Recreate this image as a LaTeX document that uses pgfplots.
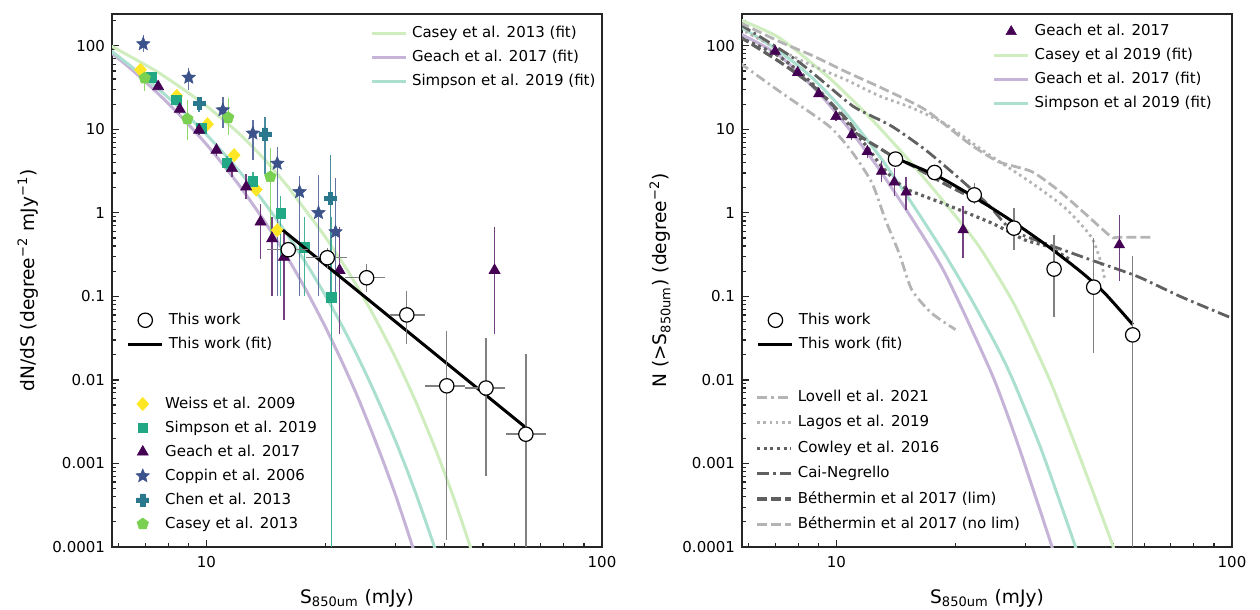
\documentclass[border=0pt]{standalone}
\usepackage{fontspec}
\setmainfont{DejaVu Sans}
\usepackage{pgfplots}
\pgfplotsset{compat=1.18}
\usetikzlibrary{plotmarks}

\definecolor{spine}{HTML}{262626}
\definecolor{cWeiss}{HTML}{FDE725}
\definecolor{cSimpson}{HTML}{22A884}
\definecolor{cGeach}{HTML}{440154}
\definecolor{cCoppin}{HTML}{3B528B}
\definecolor{cChen}{HTML}{2A788E}
\definecolor{cCasey}{HTML}{7AD151}
\definecolor{fitCasey}{HTML}{CFEDBE}
\definecolor{fitGeach}{HTML}{C5B4D8}
\definecolor{fitSimpson}{HTML}{ABE0D1}
\definecolor{errgray}{HTML}{808080}
\definecolor{ltgray}{HTML}{B4B4B4}
\definecolor{dkgray}{HTML}{606060}

\newcommand{\ticksz}{\fontsize{7.5}{9}\selectfont}
\newcommand{\labsz}{\fontsize{9.3}{11}\selectfont}

% filled marks that pgf does not have
\pgfdeclareplotmark{fstar}{%
  \pgfpathmoveto{\pgfpointpolar{90}{\pgfplotmarksize}}%
  \pgfpathlineto{\pgfpointpolar{126}{0.45\pgfplotmarksize}}%
  \pgfpathlineto{\pgfpointpolar{162}{\pgfplotmarksize}}%
  \pgfpathlineto{\pgfpointpolar{198}{0.45\pgfplotmarksize}}%
  \pgfpathlineto{\pgfpointpolar{234}{\pgfplotmarksize}}%
  \pgfpathlineto{\pgfpointpolar{270}{0.45\pgfplotmarksize}}%
  \pgfpathlineto{\pgfpointpolar{306}{\pgfplotmarksize}}%
  \pgfpathlineto{\pgfpointpolar{342}{0.45\pgfplotmarksize}}%
  \pgfpathlineto{\pgfpointpolar{18}{\pgfplotmarksize}}%
  \pgfpathlineto{\pgfpointpolar{54}{0.45\pgfplotmarksize}}%
  \pgfpathclose\pgfusepathqfillstroke}
\pgfdeclareplotmark{fdiamond}{%
  \pgfpathmoveto{\pgfqpoint{0pt}{\pgfplotmarksize}}%
  \pgfpathlineto{\pgfqpoint{.9\pgfplotmarksize}{0pt}}%
  \pgfpathlineto{\pgfqpoint{0pt}{-\pgfplotmarksize}}%
  \pgfpathlineto{\pgfqpoint{-.9\pgfplotmarksize}{0pt}}%
  \pgfpathclose\pgfusepathqfillstroke}
\pgfdeclareplotmark{fplus}{%
  \pgfpathmoveto{\pgfqpoint{-.35\pgfplotmarksize}{-\pgfplotmarksize}}%
  \pgfpathlineto{\pgfqpoint{.35\pgfplotmarksize}{-\pgfplotmarksize}}%
  \pgfpathlineto{\pgfqpoint{.35\pgfplotmarksize}{-.35\pgfplotmarksize}}%
  \pgfpathlineto{\pgfqpoint{\pgfplotmarksize}{-.35\pgfplotmarksize}}%
  \pgfpathlineto{\pgfqpoint{\pgfplotmarksize}{.35\pgfplotmarksize}}%
  \pgfpathlineto{\pgfqpoint{.35\pgfplotmarksize}{.35\pgfplotmarksize}}%
  \pgfpathlineto{\pgfqpoint{.35\pgfplotmarksize}{\pgfplotmarksize}}%
  \pgfpathlineto{\pgfqpoint{-.35\pgfplotmarksize}{\pgfplotmarksize}}%
  \pgfpathlineto{\pgfqpoint{-.35\pgfplotmarksize}{.35\pgfplotmarksize}}%
  \pgfpathlineto{\pgfqpoint{-\pgfplotmarksize}{.35\pgfplotmarksize}}%
  \pgfpathlineto{\pgfqpoint{-\pgfplotmarksize}{-.35\pgfplotmarksize}}%
  \pgfpathlineto{\pgfqpoint{-.35\pgfplotmarksize}{-.35\pgfplotmarksize}}%
  \pgfpathclose\pgfusepathqfillstroke}

% shared by all six overlaid axes
\pgfplotsset{
  every axis/.append style={
    scale only axis, width=245pt, height=266.5pt,
    xmode=log, ymode=log, xmin=5.77, xmax=100, ymin=1e-4, ymax=240,
    xtick={10,100}, xticklabels={10,100},
    ytick={0.0001,0.001,0.01,0.1,1,10,100},
    yticklabels={0.0001,0.001,0.01,0.1,1,10,100},
    minor xtick={6,7,8,9,20,30,40,50,60,70,80,90},
    minor ytick={2e-4,3e-4,4e-4,5e-4,6e-4,7e-4,8e-4,9e-4,
      2e-3,3e-3,4e-3,5e-3,6e-3,7e-3,8e-3,9e-3,
      0.02,0.03,0.04,0.05,0.06,0.07,0.08,0.09,
      0.2,0.3,0.4,0.5,0.6,0.7,0.8,0.9,
      2,3,4,5,6,7,8,9,20,30,40,50,60,70,80,90,200},
    tick pos=left, tick align=inside,
    major tick length=3.5pt, minor tick length=2pt,
    axis line style={line width=0.75pt, spine},
    tick label style={font=\ticksz},
    xticklabel style={yshift=-1pt},
    xlabel style={at={(axis description cs:0.5,-0.0957)}, anchor=center, font=\labsz},
    ylabel style={at={(axis description cs:-0.1714,0.5)}, anchor=center, font=\labsz},
    legend cell align=left,
    legend style={draw=none, fill=none, inner sep=0pt, outer sep=0pt, font=\ticksz,
      row sep=3.2pt, column sep=2pt,
      nodes={inner sep=0.5pt, text height=6pt, text depth=1.8pt}},
  },
  every tick/.append style={line width=0.6pt, spine},
  lnleg/.style={legend image code/.code={\draw[##1] (0pt,0pt) -- (17pt,0pt);}},
  mkleg/.style={legend image code/.code={\path (0pt,0pt) (17pt,0pt);
      \draw[##1,only marks] plot coordinates {(8.5pt,0pt)};}},
  fitln/.style={no markers, line width=1.5pt, smooth, tension=0.4, lnleg},
  mdlln/.style={no markers, line width=1.4pt, line cap=butt, smooth, tension=0.4, lnleg},
  ptsmk/.style={only marks, mkleg},
  ebar/.style={/pgfplots/error bars/y dir=both, /pgfplots/error bars/y explicit,
    /pgfplots/error bars/error mark=none,
    /pgfplots/error bars/error bar style={line width=0.7pt,#1}},
  ebarxy/.style={/pgfplots/error bars/y dir=both, /pgfplots/error bars/y explicit,
    /pgfplots/error bars/x dir=both, /pgfplots/error bars/x explicit,
    /pgfplots/error bars/error mark=none,
    /pgfplots/error bars/error bar style={line width=0.7pt,#1}},
  thiswork/.style={ptsmk, mark=*, mark size=3.6pt, black,
    mark options={fill=white, draw=black, line width=0.6pt}},
}

\begin{document}
\begin{tikzpicture}
\useasboundingbox (-56pt,-31.5pt) rectangle (574pt,273.5pt);

% ---------------- left panel: dN/dS ----------------
\begin{axis}[at={(0pt,0pt)},
    xlabel={S\textsubscript{850um} (mJy)},
    ylabel={dN/dS (degree\textsuperscript{−2} mJy\textsuperscript{−1})},
    legend style={at={(0.5266,0.9808)}, anchor=north west}]
  \addplot[fitln, fitCasey] coordinates {
    (5.6,106) (6.5,72) (7.5,49) (8.5,33) (10,19) (12,9.2) (14,4.4) (16,2.1)
    (18,1.0) (20,0.51) (23,0.186) (26,0.069) (30,0.0188) (34,0.0052)
    (38,0.00145) (42,0.00041) (46,0.000116) (50,0.000033)};
  \addlegendentry{Casey et al. 2013 (fit)}
  \addplot[fitln, fitGeach] coordinates {
    (5.6,91) (6.5,51) (7.5,27.5) (8.5,15.3) (10,6.6) (12,2.25) (14,0.8)
    (16,0.295) (18,0.111) (20,0.0426) (22,0.0166) (24,0.0066) (26,0.0026)
    (28,0.00105) (30,0.00043) (32,0.000173) (34,0.000071)};
  \addlegendentry{Geach et al. 2017 (fit)}
  \addplot[fitln, fitSimpson] coordinates {
    (5.6,95) (6.5,55) (7.5,31.5) (8.5,18.5) (10,8.65) (12,3.31) (14,1.33)
    (16,0.55) (18,0.235) (20,0.102) (22,0.0448) (24,0.02) (26,0.009)
    (28,0.0041) (30,0.0019) (32,0.00088) (34,0.00041) (36,0.00019)
    (38,0.00009) (40,0.000043)};
  \addlegendentry{Simpson et al. 2019 (fit)}
\end{axis}

\begin{axis}[hide axis, at={(0pt,0pt)},
    legend style={at={(0.0273,0.2848)}, anchor=north west}]
  \addplot[ptsmk, cWeiss, mark=fdiamond, mark size=3.3pt,
      mark options={fill=cWeiss, line width=0.3pt}] coordinates {
    (6.81,51.5) (8.41,25.1) (10.06,11.5) (11.75,4.9) (13.36,1.9) (15.1,0.62)};
  \addlegendentry{Weiss et al. 2009}
  \addplot[ptsmk, cSimpson, mark=square*, mark size=2.4pt,
      mark options={fill=cSimpson, line width=0.3pt}, ebar={cSimpson!85!white}] coordinates {
    (7.26,42) +- (0,5)  (8.38,22.5) +- (0,3)  (9.71,10.3) +- (0,1.5)
    (11.26,3.97) +- (0,0.8)  (13.1,2.39) += (0,0.7) -= (0,0.6)
    (15.4,0.98) += (0,0.62) -= (0,0.88)  (17.7,0.39) += (0,0.5) -= (0,0.29)
    (20.7,0.098) += (0,0.8) -= (0,0.09799)};
  \addlegendentry{Simpson et al. 2019}
  \addplot[ptsmk, cGeach, mark=triangle*, mark size=3.2pt,
      mark options={fill=cGeach, line width=0.3pt}, ebar={cGeach!75!white}] coordinates {
    (7.55,32.5) +- (0,3)  (8.56,17.4) +- (0,2)  (9.58,9.8) +- (0,1.2)
    (10.6,5.64) +- (0,0.9)  (11.6,3.4) +- (0,0.7)  (12.6,2.05) += (0,0.9) -= (0,0.6)
    (13.7,0.78) += (0,0.5) -= (0,0.5)  (14.65,0.49) += (0,0.4) -= (0,0.39)
    (15.7,0.295) += (0,0.285) -= (0,0.243)  (21.7,0.205) += (0,0.47) -= (0,0.17)
    (53.5,0.205) += (0,0.47) -= (0,0.17)};
  \addlegendentry{Geach et al. 2017}
  \addplot[ptsmk, cCoppin, mark=fstar, mark size=3.5pt,
      mark options={fill=cCoppin, line width=0.3pt}, ebar={cCoppin!80!white}] coordinates {
    (6.92,105) += (0,30) -= (0,20)  (9.02,41.7) += (0,12) -= (0,12.5)
    (11.0,17) += (0,7.6) -= (0,6.7)  (13.1,8.95) += (0,4) -= (0,4.65)
    (15.1,3.9) += (0,2.3) -= (0,3.8)  (17.2,1.78) += (0,1.0) -= (0,1.68)
    (19.2,1.0) += (0,1.8) -= (0,0.9)  (21.2,0.59) += (0,2.0) -= (0,0.49)};
  \addlegendentry{Coppin et al. 2006}
  \addplot[ptsmk, cChen, mark=fplus, mark size=3pt,
      mark options={fill=cChen, line width=0.3pt}, ebar={cChen!85!white}] coordinates {
    (9.58,20.5) += (0,3) -= (0,4.5)  (14.05,8.8) += (0,5.4) -= (0,5.85)
    (20.6,1.48) += (0,3.4) -= (0,1.38)};
  \addlegendentry{Chen et al. 2013}
  \addplot[ptsmk, cCasey, mark=pentagon*, mark size=3pt,
      mark options={fill=cCasey, line width=0.3pt}, ebar={cCasey!85!white}] coordinates {
    (6.98,41) += (0,15) -= (0,12.6)  (8.95,13.3) += (0,9) -= (0,5.8)
    (11.35,13.8) += (0,9.8) -= (0,5.2)  (14.5,2.7) += (0,3.3) -= (0,2.2)};
  \addlegendentry{Casey et al. 2013}
\end{axis}

\begin{axis}[hide axis, at={(0pt,0pt)},
    legend style={at={(0.0301,0.4419)}, anchor=north west}]
  \addlegendimage{thiswork}
  \addlegendentry{This work}
  \addplot[no markers, black, line width=1.5pt, lnleg] coordinates {
    (15.6,0.62) (64.1,0.0027)};
  \addlegendentry{This work (fit)}
  \addplot[thiswork, forget plot, ebarxy={errgray}] coordinates {
    (16.1,0.362) += (2.0,0) -= (1.9,0)
    (20.2,0.29) += (2.4,0.087) -= (2.3,0.07)
    (25.4,0.167) += (2.8,0.079) -= (3.0,0.055)
    (32.1,0.060) += (3.6,0.057) -= (3.0,0.033)
    (40.5,0.0085) += (4.6,0.0305) -= (4.8,0.00838)
    (50.9,0.008) += (6.0,0.024) -= (5.8,0.0073)
    (64.2,0.00224) += (7.8,0.0183) -= (7.1,0.00223)};
\end{axis}

% ---------------- right panel: N(>S) ----------------
\begin{axis}[at={(315pt,0pt)},
    xlabel={S\textsubscript{850um} (mJy)},
    ylabel={N (>S\textsubscript{850um}) (degree\textsuperscript{−2})},
    ylabel style={at={(axis description cs:-0.167,0.5)}},
    legend style={at={(0.5116,0.9833)}, anchor=north west}]
  \addlegendimage{ptsmk, cGeach, mark=triangle*, mark size=3pt,
      mark options={fill=cGeach, line width=0.3pt}}
  \addlegendentry{Geach et al. 2017}
  \addplot[fitln, fitCasey] coordinates {
    (5.7,205) (7.18,124) (9.6,41) (12.3,13) (15.5,3.9) (18.8,1.31) (22.9,0.40)
    (28.2,0.079) (34.6,0.01) (41.2,0.00121) (49.9,0.000105) (52,0.00005)};
  \addlegendentry{Casey et al 2019 (fit)}
  \addplot[fitln, fitGeach] coordinates {
    (5.7,140) (7.18,76) (9.05,26.9) (10.97,9.0) (12.8,3.36) (15.5,0.86)
    (18.8,0.19) (24.7,0.0118) (28.8,0.00166) (34.9,0.000108) (36,0.00006)};
  \addlegendentry{Geach et al. 2017 (fit)}
  \addplot[fitln, fitSimpson] coordinates {
    (5.7,170) (7.18,85.5) (8.7,41) (10.56,15.6) (12.8,4.88) (15.5,1.31) (18.8,0.318)
    (22,0.0895) (25.6,0.0237) (28,0.0097) (33,0.00144) (40,0.000108) (42,0.00005)};
  \addlegendentry{Simpson et al 2019 (fit)}
\end{axis}

\begin{axis}[hide axis, at={(315pt,0pt)},
    legend style={at={(0.0278,0.2972)}, anchor=north west, row sep=3.9pt}]
  \addplot[mdlln, ltgray, dash pattern=on 5pt off 2pt on 1.2pt off 2pt] coordinates {
    (5.7,62) (7.18,28.4) (9.6,10.8) (11.0,5.19) (12.3,2.27) (13.3,0.824)
    (14.4,0.329) (15.5,0.12) (17.4,0.063) (20.0,0.04)};
  \addlegendentry{Lovell et al. 2021}
  \addplot[mdlln, ltgray, dash pattern=on 1.3pt off 1.8pt] coordinates {
    (5.7,160) (7.18,89.6) (8.71,57.5) (10.56,39.2) (12.81,25.2) (15.5,18.1)
    (18.84,11.6) (23.3,5.68) (31.1,2.29) (37.8,1.15) (44.0,0.52) (46.7,0.25) (47.6,0.165)};
  \addlegendentry{Lagos et al. 2019}
  \addplot[mdlln, dkgray, line width=1.6pt, dash pattern=on 1.5pt off 1.8pt] coordinates {
    (5.7,125) (7.0,80) (8.0,50) (9.0,30) (10.0,17) (11.0,10) (12.0,6.0) (13.0,3.6)
    (14.0,2.5) (15.2,1.88) (18.5,1.31) (24.7,0.754) (29.9,0.475) (34.3,0.394)
    (39.2,0.27)};
  \addlegendentry{Cowley et al. 2016}
  \addplot[mdlln, dkgray, dash pattern=on 6pt off 2pt on 1.3pt off 2pt] coordinates {
    (5.7,180) (7.9,68) (10.56,22) (11.4,17.1) (13.83,10.8) (16.78,5.68) (20.35,2.63)
    (24.2,1.25) (27.7,0.625) (33.6,0.433) (44.0,0.273) (57.7,0.173) (74.1,0.0995)
    (100,0.0548) (105,0.05)};
  \addlegendentry{Cai-Negrello}
  \addplot[mdlln, dkgray, line width=1.6pt, dash pattern=on 5pt off 2pt] coordinates {
    (5.7,128) (7.18,64.3) (8.71,33.2) (10.56,13.5) (11.4,8.5) (12.81,6.0) (13.83,4.8)
    (15.5,3.7) (19.2,2.1) (22.9,1.4) (24.6,1.19)};
  \addlegendentry{Béthermin et al 2017 (lim)}
  \addplot[mdlln, ltgray, dash pattern=on 5pt off 2pt] coordinates {
    (5.7,190) (7.18,112) (8.71,75.9) (10.56,48.9) (13.31,29.7) (16.78,17.1)
    (21.57,6.84) (25.6,4.12) (31.1,3.13) (36.3,1.88) (42.4,0.99) (49.4,0.52)
    (51.5,0.51) (62.9,0.51)};
  \addlegendentry{Béthermin et al 2017 (no lim)}
\end{axis}

\begin{axis}[hide axis, at={(315pt,0pt)},
    legend style={at={(0.0305,0.4419)}, anchor=north west}]
  \addlegendimage{thiswork}
  \addlegendentry{This work}
  \addplot[no markers, black, line width=1.5pt, smooth, tension=0.4, lnleg] coordinates {
    (14.1,4.52) (18.1,2.72) (22.9,1.43) (28.2,0.759) (34.3,0.396) (41.6,0.195)
    (47.6,0.11) (56.1,0.046)};
  \addlegendentry{This work (fit)}
  \addplot[ptsmk, forget plot, cGeach, mark=triangle*, mark size=3pt,
      mark options={fill=cGeach, line width=0.3pt}, ebar={cGeach!75!white}] coordinates {
    (7.0,85.5) +- (0,8)  (7.98,47.9) +- (0,4)  (9.02,26.6) +- (0,2.5)
    (9.97,14.2) +- (0,1.5)  (10.93,8.6) +- (0,1.2)  (11.97,5.42) += (0,1.0) -= (0,0.9)
    (13.0,3.13) += (0,1.0) -= (0,0.8)  (14.0,2.33) += (0,1.1) -= (0,0.76)
    (15.0,1.77) += (0,0.95) -= (0,0.68)  (20.9,0.625) += (0,0.57) -= (0,0.34)
    (51.9,0.414) += (0,0.53) -= (0,0.26)};
  \addplot[thiswork, forget plot, ebar={errgray}] coordinates {
    (14.1,4.4) +- (0,0)  (17.7,3.04) +- (0,0)
    (22.3,1.64) += (0,0.63) -= (0,0.35)  (28.1,0.656) += (0,0.48) -= (0,0.30)
    (35.5,0.212) += (0,0.334) -= (0,0.155)  (44.7,0.129) += (0,0.368) -= (0,0.108)
    (56.1,0.0346) += (0,0.27) -= (0,0.03459)};
\end{axis}
\end{tikzpicture}
\end{document}
